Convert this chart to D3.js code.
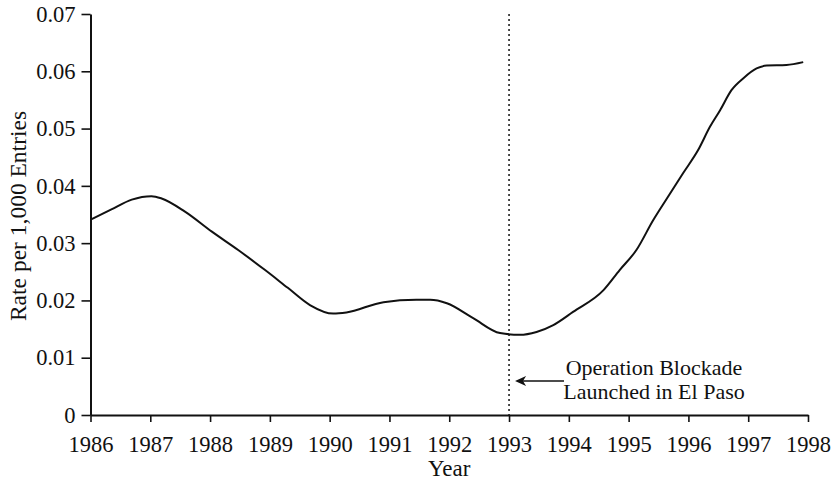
<!DOCTYPE html>
<html lang="en">
<script src="https://d3js.org/d3.v7.min.js"></script>
<head>
    <meta charset="UTF-8">
    <title>Rate per 1,000 Entries</title>
    <style>
        body { margin: 0; background: #fff; }
        svg text { font-family: "Liberation Serif", "DejaVu Serif", serif; fill: #111; }
    </style>
</head>
<body>
    <svg width="835" height="482"></svg>

    <script>
        // data
        const years = [1986.02, 1986.35, 1986.69, 1987.02, 1987.19, 1987.58, 1988.03, 1988.47, 1988.92,
            1989.3, 1989.67, 1990.06, 1990.28, 1990.9, 1991.45, 1991.68, 1991.96, 1992.4, 1992.85,
            1993.18, 1993.46, 1993.74, 1994.07, 1994.58, 1994.85, 1995.13, 1995.41, 1995.64, 1995.91,
            1996.16, 1996.36, 1996.53, 1996.72, 1996.92, 1997.14, 1997.31, 1997.64, 1997.92];
        const rates = [0.0342, 0.0359, 0.0376, 0.0382, 0.0378, 0.0355, 0.0320, 0.0288, 0.0253,
            0.0222, 0.0192, 0.0177, 0.0179, 0.0197, 0.0201, 0.0201, 0.0195, 0.0169, 0.0143,
            0.0140, 0.0145, 0.0157, 0.0180, 0.0218, 0.0253, 0.0288, 0.0340, 0.0378, 0.0422,
            0.0462, 0.0503, 0.0532, 0.0567, 0.0588, 0.0605, 0.0610, 0.0611, 0.0616];
        const xTicks = d3.range(1986, 1999);
        const yTicks = [0, 0.01, 0.02, 0.03, 0.04, 0.05, 0.06, 0.07];
        const eventYear = 1993;
        const noteLines = ["Operation Blockade", "Launched in El Paso"];

        const svg = d3.select('svg');

        const x = d3.scaleLinear().domain([1986, 1998]).range([90.5, 808]);
        const y = d3.scaleLinear().domain([0, 0.07]).range([415, 14]);

        // axes
        const xAxis = d3.axisBottom(x)
            .tickValues(xTicks)
            .tickFormat(d3.format("d"))
            .tickSize(7)
            .tickSizeOuter(0)
            .tickPadding(14);
        const xg = svg.append("g")
            .attr("transform", "translate(0,415)")
            .call(xAxis);

        const yAxis = d3.axisLeft(y)
            .tickValues(yTicks)
            .tickFormat(d => d === 0 ? "0" : d3.format(".2f")(d))
            .tickSize(9)
            .tickSizeOuter(0)
            .tickPadding(6);
        const yg = svg.append("g")
            .attr("transform", "translate(90.5,0)")
            .call(yAxis);

        [xg, yg].forEach(g => {
            g.select(".domain").attr("stroke", "#111").attr("stroke-width", 2);
            g.selectAll(".tick line").attr("stroke", "#111").attr("stroke-width", 1.6);
            g.selectAll(".tick text")
                .style("font-family", '"Liberation Serif", serif')
                .attr("font-size", 22.5)
                .attr("fill", "#111");
        });

        // axis titles
        svg.append("text")
            .attr("x", (x(1986) + x(1998)) / 2)
            .attr("y", 476)
            .attr("text-anchor", "middle")
            .attr("font-size", 23)
            .text("Year");
        svg.append("text")
            .attr("transform", "translate(26,216) rotate(-90)")
            .attr("text-anchor", "middle")
            .attr("font-size", 23.5)
            .text("Rate per 1,000 Entries");

        // event marker
        svg.append("line")
            .attr("x1", x(eventYear))
            .attr("x2", x(eventYear))
            .attr("y1", y(0.07))
            .attr("y2", y(0))
            .attr("stroke", "#111")
            .attr("stroke-width", 1.5)
            .attr("stroke-dasharray", "2,3");

        // data line
        const data = years.map((yr, i) => ({ yr: yr, v: rates[i] }));
        const line = d3.line()
            .x(d => x(d.yr))
            .y(d => y(d.v))
            .curve(d3.curveMonotoneX);
        svg.append("path")
            .datum(data)
            .attr("d", line)
            .attr("fill", "none")
            .attr("stroke", "#111")
            .attr("stroke-width", 2);

        // annotation arrow
        const tipX = x(eventYear) + 6;
        const arrowY = 381;
        svg.append("line")
            .attr("x1", 564)
            .attr("x2", tipX + 8)
            .attr("y1", arrowY)
            .attr("y2", arrowY)
            .attr("stroke", "#111")
            .attr("stroke-width", 1.6);
        svg.append("path")
            .attr("d", "M" + tipX + "," + arrowY +
                " L" + (tipX + 11) + "," + (arrowY - 5) +
                " L" + (tipX + 8) + "," + arrowY +
                " L" + (tipX + 11) + "," + (arrowY + 5) + " Z")
            .attr("fill", "#111");

        svg.append("text")
            .attr("x", 654)
            .attr("y", 375)
            .attr("text-anchor", "middle")
            .attr("font-size", 22)
            .selectAll("tspan")
            .data(noteLines)
            .join("tspan")
            .attr("x", 654)
            .attr("dy", (d, i) => i === 0 ? 0 : 24)
            .text(d => d);
    </script>
</body>
</html>
